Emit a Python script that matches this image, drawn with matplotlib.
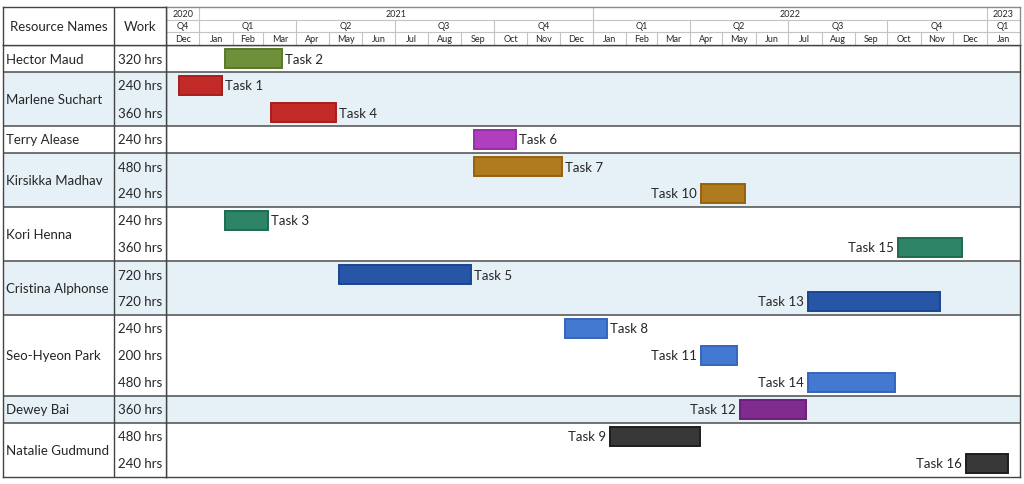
import datetime as dt
import matplotlib
matplotlib.use("Agg")
import matplotlib.pyplot as plt
import matplotlib.dates as mdates

plt.rcParams['font.family'] = ['Lato', 'DejaVu Sans']

# resources and how many task rows each one has
resources = ["Hector Maud", "Marlene Suchart", "Terry Alease", "Kirsikka Madhav",
             "Kori Henna", "Cristina Alphonse", "Seo-Hyeon Park", "Dewey Bai",
             "Natalie Gudmund"]
rows_per_resource = [1, 2, 1, 2, 2, 2, 3, 1, 2]

# one entry per task row, top to bottom
task_names = ["Task 2", "Task 1", "Task 4", "Task 6", "Task 7", "Task 10", "Task 3",
              "Task 15", "Task 5", "Task 13", "Task 8", "Task 11", "Task 14",
              "Task 12", "Task 9", "Task 16"]
work_hrs = [320, 240, 360, 240, 480, 240, 240, 360, 720, 720, 240, 200, 480, 360, 480, 240]
starts = ["2021-01-25", "2020-12-13", "2021-03-08", "2021-09-13", "2021-09-13",
          "2022-04-11", "2021-01-25", "2022-10-11", "2021-05-10", "2022-07-19",
          "2021-12-06", "2022-04-11", "2022-07-19", "2022-05-17", "2022-01-17",
          "2022-12-13"]
ends = ["2021-03-19", "2021-01-22", "2021-05-08", "2021-10-22", "2021-12-03",
        "2022-05-22", "2021-03-06", "2022-12-09", "2021-09-10", "2022-11-19",
        "2022-01-14", "2022-05-15", "2022-10-08", "2022-07-18", "2022-04-10",
        "2023-01-21"]

# styling per row
fills = ["#6f8f3a", "#c22a27", "#c22a27", "#b03fc0", "#b07a1f", "#b07a1f", "#2e8467",
         "#2e8467", "#2756a6", "#2756a6", "#4479d1", "#4479d1", "#4479d1", "#802c8e",
         "#383838", "#383838"]
edges = ["#557a2a", "#a81d1d", "#a81d1d", "#9430a6", "#95620f", "#95620f", "#1f6b50",
         "#1f6b50", "#1a4591", "#1a4591", "#3566ba", "#3566ba", "#3566ba", "#6a1f78",
         "#1e1e1e", "#1e1e1e"]
# tasks after Task 8 get their label on the left of the bar
label_left = [int(n.split()[1]) > 8 for n in task_names]

months = ["Dec", "Jan", "Feb", "Mar", "Apr", "May", "Jun", "Jul", "Aug", "Sep", "Oct",
          "Nov", "Dec", "Jan", "Feb", "Mar", "Apr", "May", "Jun", "Jul", "Aug", "Sep",
          "Oct", "Nov", "Dec", "Jan"]

W, H = 1024, 485
fig = plt.figure(figsize=(W / 100, H / 100), dpi=100)


def box(x0, y0, x1, y1):
    return [x0 / W, 1 - y1 / H, (x1 - x0) / W, (y1 - y0) / H]


TOP, HEAD, BOT = 8, 46, 478
LEFT, SPLIT, CHART, RIGHT = 3, 114, 166, 1020

ax = fig.add_axes(box(CHART, HEAD, RIGHT, BOT))
axh = fig.add_axes(box(CHART, TOP, RIGHT, HEAD), sharex=ax)
axl = fig.add_axes(box(LEFT, HEAD, CHART, BOT))
axlh = fig.add_axes(box(LEFT, TOP, CHART, HEAD))

n_rows = len(task_names)
t0 = mdates.date2num(dt.date(2020, 12, 1))
t1 = mdates.date2num(dt.date(2023, 2, 1))

for a in (ax, axh, axl, axlh):
    a.set_xticks([])
    a.set_yticks([])
    for s in a.spines.values():
        s.set_color("#444444")
        s.set_linewidth(1.0)

ax.set_xlim(t0, t1)
ax.set_ylim(n_rows, 0)
axl.set_xlim(LEFT, CHART)
axl.set_ylim(n_rows, 0)
axh.set_ylim(3, 0)
axlh.set_xlim(LEFT, CHART)
axlh.set_ylim(1, 0)

fs = 9.5
txt = "#262626"

# row shading and group separators
r = 0
for i, (name, n) in enumerate(zip(resources, rows_per_resource)):
    if i % 2 == 1:
        for a in (ax, axl):
            a.axhspan(r, r + n, color="#e6f0f7", zorder=0, lw=0)
    if r > 0:
        for a in (ax, axl):
            a.axhline(r, color="#4d4d4d", lw=1.1, zorder=1)
    axl.text(LEFT + 3, r + n / 2, name, ha="left", va="center", fontsize=fs, color=txt)
    r += n

axl.axvline(SPLIT, color="#444444", lw=1.0)
for i, w in enumerate(work_hrs):
    axl.text(CHART - 4, i + 0.5, f"{w} hrs", ha="right", va="center", fontsize=fs, color=txt)

axlh.axvline(SPLIT, color="#444444", lw=1.0)
axlh.text((LEFT + SPLIT) / 2, 0.5, "Resource Names", ha="center", va="center",
          fontsize=fs, color=txt)
axlh.text((SPLIT + CHART) / 2, 0.5, "Work", ha="center", va="center", fontsize=fs, color=txt)

# bars
for i in range(n_rows):
    s = mdates.date2num(dt.date.fromisoformat(starts[i]))
    e = mdates.date2num(dt.date.fromisoformat(ends[i]))
    ax.barh(i + 0.5, e - s, left=s, height=0.74, color=fills[i], edgecolor=edges[i],
            linewidth=1.4, zorder=3)
    if label_left[i]:
        ax.annotate(task_names[i], (s, i + 0.5), xytext=(-3, 0), textcoords="offset points",
                    ha="right", va="center", fontsize=fs, color=txt)
    else:
        ax.annotate(task_names[i], (e, i + 0.5), xytext=(2, 0), textcoords="offset points",
                    ha="left", va="center", fontsize=fs, color=txt)

# timeline header
grid = "#c4c4c4"
hfs = 6.5
month_starts = []
y, m = 2020, 12
for k in range(len(months) + 1):
    month_starts.append(mdates.date2num(dt.date(y, m, 1)))
    m += 1
    if m > 12:
        m, y = 1, y + 1

axh.axhline(1, color=grid, lw=0.8)
axh.axhline(2, color=grid, lw=0.8)
y, m = 2020, 12
for k, lab in enumerate(months):
    a, b = month_starts[k], month_starts[k + 1]
    axh.text((a + b) / 2, 2.5, lab, ha="center", va="center", fontsize=hfs, color=txt)
    if k > 0:
        top = 2
        if m in (1, 4, 7, 10):
            top = 1
        if m == 1:
            top = 0
        axh.plot([a, a], [top, 3], color=grid, lw=0.8)
    m += 1
    if m > 12:
        m, y = 1, y + 1

# quarters and years
quarters = []
years = []
y, m = 2020, 12
for k in range(len(months)):
    q = f"Q{(m - 1) // 3 + 1}"
    key = (y, q)
    if not quarters or quarters[-1][0] != key:
        quarters.append([key, month_starts[k], month_starts[k + 1]])
    else:
        quarters[-1][2] = month_starts[k + 1]
    if not years or years[-1][0] != y:
        years.append([y, month_starts[k], month_starts[k + 1]])
    else:
        years[-1][2] = month_starts[k + 1]
    m += 1
    if m > 12:
        m, y = 1, y + 1

for (yy, q), a, b in quarters:
    axh.text((a + b) / 2, 1.5, q, ha="center", va="center", fontsize=hfs, color=txt)
for yy, a, b in years:
    axh.text((a + b) / 2, 0.5, str(yy), ha="center", va="center", fontsize=hfs, color=txt)

for s in ("top", "right"):
    axh.spines[s].set_color("#8a8a8a")

fig.savefig("out.png", dpi=100)
